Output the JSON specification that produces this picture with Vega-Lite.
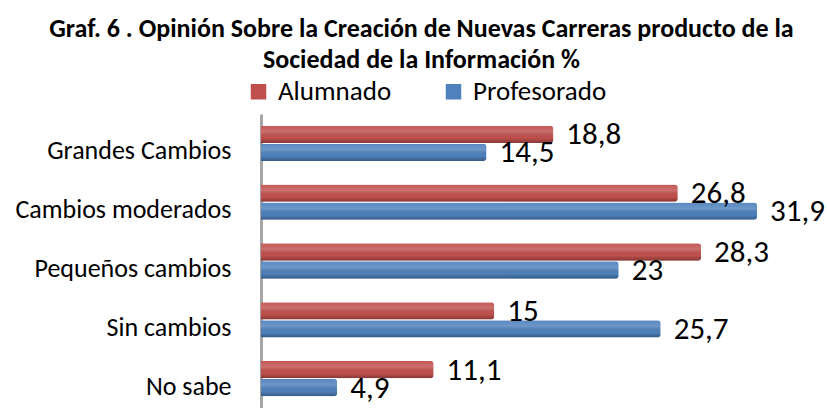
{
  "$schema": "https://vega.github.io/schema/vega-lite/v6.json",
  "width": 567,
  "height": 294,
  "autosize": {"type": "none"},
  "padding": {"left": 261, "top": 114, "right": 0, "bottom": 0},
  "background": "white",
  "config": {
    "view": {"stroke": null},
    "font": "Lato",
    "locale": {"number": {"decimal": ",", "thousands": ".", "grouping": [3], "currency": ["", " €"]}}
  },
  "title": {
    "text": ["Graf. 6 . Opinión Sobre la Creación de Nuevas Carreras producto de la", "Sociedad de la Información  %"],
    "font": "Carlito, Lato",
    "fontSize": 26,
    "fontWeight": "bold",
    "color": "#000000",
    "lineHeight": 31,
    "anchor": "middle",
    "frame": "bounds",
    "offset": 5
  },
  "data": {
    "values": [
      {"categoria": "Grandes Cambios", "grupo": "Alumnado", "valor": 18.8},
      {"categoria": "Grandes Cambios", "grupo": "Profesorado", "valor": 14.5},
      {"categoria": "Cambios moderados", "grupo": "Alumnado", "valor": 26.8},
      {"categoria": "Cambios moderados", "grupo": "Profesorado", "valor": 31.9},
      {"categoria": "Pequeños cambios", "grupo": "Alumnado", "valor": 28.3},
      {"categoria": "Pequeños cambios", "grupo": "Profesorado", "valor": 23},
      {"categoria": "Sin cambios", "grupo": "Alumnado", "valor": 15},
      {"categoria": "Sin cambios", "grupo": "Profesorado", "valor": 25.7},
      {"categoria": "No sabe", "grupo": "Alumnado", "valor": 11.1},
      {"categoria": "No sabe", "grupo": "Profesorado", "valor": 4.9}
    ]
  },
  "encoding": {
    "y": {
      "field": "categoria",
      "type": "nominal",
      "sort": ["Grandes Cambios", "Cambios moderados", "Pequeños cambios", "Sin cambios", "No sabe"],
      "scale": {"paddingInner": 0.4, "paddingOuter": 0.2},
      "axis": {
        "title": null,
        "ticks": false,
        "domain": true,
        "domainColor": "#a6a6a6",
        "domainWidth": 3,
        "labelFont": "Carlito, Lato",
        "labelFontSize": 26,
        "labelColor": "#000000",
        "labelPadding": 30,
        "labelOffset": 8,
        "labelLimit": 300
      }
    },
    "yOffset": {
      "field": "grupo",
      "type": "nominal",
      "sort": ["Alumnado", "Profesorado"],
      "scale": {"paddingInner": 0.04}
    },
    "x": {
      "field": "valor",
      "type": "quantitative",
      "scale": {"domain": [0, 36.46], "nice": false},
      "axis": null
    }
  },
  "layer": [
    {
      "mark": {"type": "bar", "cornerRadiusEnd": 3},
      "encoding": {
        "color": {
          "field": "grupo",
          "type": "nominal",
          "sort": ["Alumnado", "Profesorado"],
          "scale": {"domain": ["Alumnado", "Profesorado"], "range": ["#c0504d", "#4f81bd"]},
          "legend": {
            "orient": "none",
            "legendX": -16,
            "legendY": -36,
            "direction": "horizontal",
            "title": null,
            "symbolType": "square",
            "symbolSize": 240,
            "symbolStrokeWidth": 0,
            "labelFont": "Carlito, Lato",
            "labelFontSize": 27,
            "labelColor": "#000000",
            "labelOffset": 6,
            "columnPadding": 48
          }
        }
      }
    },
    {
      "mark": {
        "type": "bar",
        "cornerRadiusEnd": 3,
        "fill": {
          "gradient": "linear",
          "x1": 0, "y1": 0, "x2": 0, "y2": 1,
          "stops": [
            {"offset": 0, "color": "rgba(255,255,255,0.05)"},
            {"offset": 0.35, "color": "rgba(255,255,255,0.18)"},
            {"offset": 0.7, "color": "rgba(0,0,0,0)"},
            {"offset": 1, "color": "rgba(0,0,0,0.3)"}
          ]
        }
      },
      "encoding": {}
    },
    {
      "mark": {"type": "text", "align": "left", "baseline": "middle", "dx": 13, "dy": 1, "font": "Carlito, Lato", "fontSize": 31, "color": "#000000"},
      "encoding": {
        "text": {"field": "valor", "type": "quantitative", "format": ".1~f"}
      }
    }
  ]
}
